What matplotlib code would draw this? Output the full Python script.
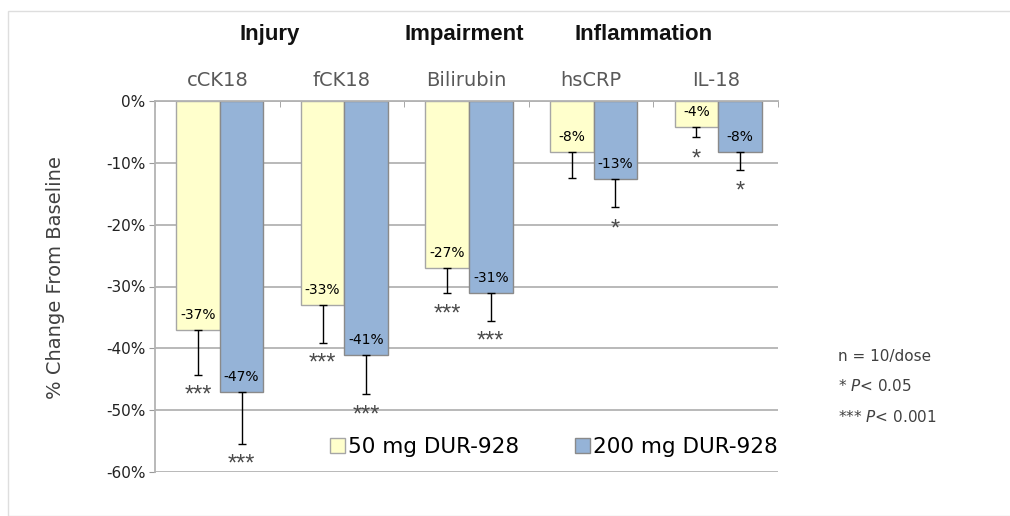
import matplotlib
matplotlib.use("Agg")
import matplotlib.pyplot as plt
import numpy as np
from matplotlib.patches import Rectangle, Patch

plt.rcParams['font.family'] = ['DejaVu Sans']

categories = ["cCK18", "fCK18", "Bilirubin", "hsCRP", "IL-18"]
groups = ["Injury", "Impairment", "Inflammation"]
group_pos = [0.42, 1.98, 3.42]
series_names = ["50 mg DUR-928", "200 mg DUR-928"]
vals_50 = [-37.0, -33.0, -27.0, -8.2, -4.2]
vals_200 = [-47.0, -41.0, -31.0, -12.6, -8.2]
labels_50 = ["-37%", "-33%", "-27%", "-8%", "-4%"]
labels_200 = ["-47%", "-41%", "-31%", "-13%", "-8%"]
err_50 = [7.3, 6.1, 4.1, 4.2, 1.6]
err_200 = [8.4, 6.4, 4.5, 4.6, 2.9]
stars_50 = ["***", "***", "***", "", "*"]
stars_200 = ["***", "***", "***", "*", "*"]
yticks = [0, -10, -20, -30, -40, -50, -60]
ytick_labels = ["0%", "-10%", "-20%", "-30%", "-40%", "-50%", "-60%"]

c_yel = "#FFFFCC"
c_blu = "#95B3D7"
ARIAL = ['Liberation Sans', 'DejaVu Sans']

fig = plt.figure(figsize=(10.1, 5.16), dpi=100)
fig.patches.append(Rectangle((8/1010, 0), 1.2, 1 - 11/516, transform=fig.transFigure,
                             fill=False, edgecolor="#dedede", lw=1))
ax = fig.add_axes([155/1010, 1 - 472/516, (778-155)/1010, (472-101)/516])

x = np.arange(len(categories))
w = 0.35
xs50 = x - w/2 + 0.02
xs200 = x + w/2 + 0.02
ax.bar(xs50, vals_50, w, color=c_yel, edgecolor="#a6a6a6", lw=1, zorder=2)
ax.bar(xs200, vals_200, w, color=c_blu, edgecolor="#8a8a8a", lw=1, zorder=2)
ax.errorbar(xs50, vals_50, yerr=[err_50, np.zeros(5)], fmt='none', ecolor='black',
            elinewidth=1, capsize=3, capthick=1, zorder=3)
ax.errorbar(xs200, vals_200, yerr=[err_200, np.zeros(5)], fmt='none', ecolor='black',
            elinewidth=1, capsize=3, capthick=1, zorder=3)

ax.set_xlim(-0.5, len(categories) - 0.5)
ax.set_ylim(-60, 0)
ax.set_yticks(yticks)
ax.set_yticklabels(ytick_labels, fontsize=11, color="#222222")
ax.yaxis.grid(True, color="#b3b3b3", lw=1.3)
ax.set_axisbelow(True)
ax.set_xticks([])
ax.set_xticks(np.arange(-0.5, len(categories)), minor=True)
ax.tick_params(axis='x', which='minor', top=True, bottom=False, direction='in', length=4, color="#999999")
ax.xaxis.set_tick_params(which='minor', labeltop=False, labelbottom=False)
ax.tick_params(axis='y', length=4, color="#999999", pad=3)
for s in ["right", "bottom"]:
    ax.spines[s].set_visible(False)
for s in ["left", "top"]:
    ax.spines[s].set_color("#b3b3b3")
    ax.spines[s].set_linewidth(1.3)

for xs, vals, labs, errs, stars in [(xs50, vals_50, labels_50, err_50, stars_50),
                                    (xs200, vals_200, labels_200, err_200, stars_200)]:
    for xi, v, lab, e, st in zip(xs, vals, labs, errs, stars):
        ax.text(xi, v + 2.4, lab, ha='center', va='center', fontsize=10, color='black', zorder=4)
        if st:
            off = 3.6 if st == "*" else 3.4
            ax.text(xi, v - e - off, st, ha='center', va='center', fontsize=17,
                    color='#4a4a4a', zorder=4, family=ARIAL)

for xi, c in zip(x, categories):
    ax.text(xi, 1.03, c, transform=ax.get_xaxis_transform(), ha='center', va='bottom',
            fontsize=14, color='#595959')
for gp, g in zip(group_pos, groups):
    ax.text(gp, 1.15, g, transform=ax.get_xaxis_transform(), ha='center', va='bottom',
            fontsize=16, fontweight='bold', color='#111111', family=ARIAL)

ax.set_ylabel("% Change From Baseline", fontsize=14, color="#404040")
ax.yaxis.set_label_coords(-0.144, 0.523)

handles = [Patch(facecolor=c_yel, edgecolor="#a6a6a6"), Patch(facecolor=c_blu, edgecolor="#8a8a8a")]
leg = ax.legend(handles, series_names, loc='center right', bbox_to_anchor=(1.0, 0.067),
                ncol=2, frameon=False, fontsize=15.5, handlelength=0.7, handleheight=0.7,
                handletextpad=0.15, columnspacing=2.6, borderaxespad=0, borderpad=0)

fig.text(838/1010, 1 - 356/516, "n = 10/dose", fontsize=11, color="#404040", va='center')
fig.text(838/1010, 1 - 386/516, "* $\\it{P}$< 0.05", fontsize=11, color="#404040", va='center')
fig.text(838/1010, 1 - 417/516, "*** $\\it{P}$< 0.001", fontsize=11, color="#404040", va='center')

fig.savefig("out.png", dpi=100, facecolor="white")
